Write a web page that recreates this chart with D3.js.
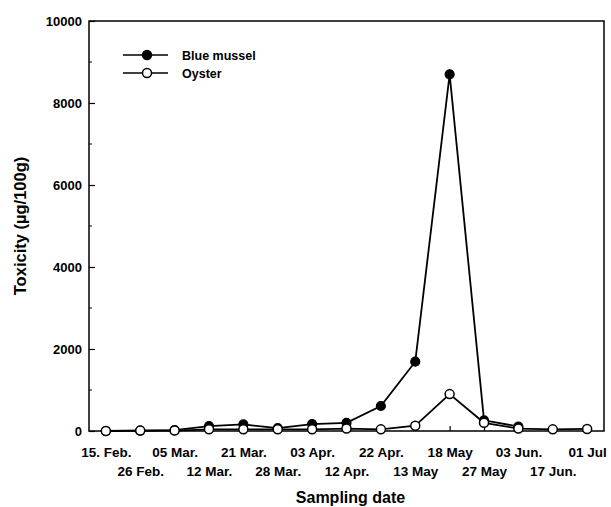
<!DOCTYPE html>
<html>
<head>
<meta charset="utf-8">
<script src="https://cdn.jsdelivr.net/npm/d3@7"></script>
<style>
  body { margin: 0; background: #fff; }
  text { font-family: "Liberation Sans", Arial, sans-serif; font-weight: bold; fill: #000; }
</style>
</head>
<body>
<svg width="611" height="507"></svg>
<script>
// sampling dates (x categories)
var dates = ['15. Feb.', '26 Feb.', '05 Mar.', '12 Mar.', '21 Mar.', '28 Mar.', '03 Apr.',
  '12 Apr.', '22 Apr.', '13 May', '18 May', '27 May', '03 Jun.', '17 Jun.', '01 Jul'];

// toxicity values, ug/100g
var mussel = [0, 10, 20, 120, 160, 70, 170, 200, 610, 1690, 8700, 260, 110];
var oyster = [0, 10, 10, 40, 40, 40, 40, 60, 40, 130, 900, 200, 60, 40, 50];

var yTicks = [0, 2000, 4000, 6000, 8000, 10000];
var yMinor = [1000, 3000, 5000, 7000, 9000];

// plot box (note: "top" is reserved on window, so use other names)
var plotL = 89, plotR = 604, plotT = 21, plotB = 431;

var svg = d3.select('svg');

var x = d3.scalePoint()
  .domain(dates)
  .range([plotL, plotR])
  .padding(0.49);

var y = d3.scaleLinear()
  .domain([0, 10000])
  .range([plotB, plotT]);

// frame
svg.append('rect')
  .attr('x', plotL).attr('y', plotT)
  .attr('width', plotR - plotL).attr('height', plotB - plotT)
  .attr('fill', 'none').attr('stroke', '#000').attr('stroke-width', 1.5);

// y axis, ticks pointing inward
var yAxis = svg.append('g')
  .attr('transform', 'translate(' + plotL + ',0)')
  .call(d3.axisLeft(y).tickValues(yTicks).tickFormat(d3.format('d')).tickSizeInner(-6).tickSizeOuter(0).tickPadding(7));
yAxis.select('.domain').remove();
yAxis.selectAll('line').attr('stroke-width', 1.2);
yAxis.selectAll('text').attr('font-size', 13).attr('font-family', '"Liberation Sans", Arial, sans-serif')
  .attr('font-weight', 'bold');

svg.append('g').selectAll('line')
  .data(yMinor)
  .enter()
    .append('line')
      .attr('x1', plotL).attr('x2', plotL + 3)
      .attr('y1', d => y(d)).attr('y2', d => y(d))
      .attr('stroke', '#000').attr('stroke-width', 1);

// x axis, ticks inward, labels in two rows
var xAxis = svg.append('g')
  .attr('transform', 'translate(0,' + plotB + ')')
  .call(d3.axisBottom(x).tickSizeInner(-5).tickSizeOuter(0).tickPadding(16));
xAxis.select('.domain').remove();
xAxis.selectAll('line').attr('stroke-width', 1.2);
xAxis.selectAll('text')
  .attr('font-size', 13.5)
  .attr('font-family', '"Liberation Sans", Arial, sans-serif')
  .attr('font-weight', 'bold')
  .attr('dy', (d, i) => i % 2 ? '2.18em' : '0.71em');

// lines
var line = d3.line()
  .x((d, i) => x(dates[i]))
  .y(d => y(d));

svg.append('path').datum(mussel)
  .attr('d', line).attr('fill', 'none').attr('stroke', '#000').attr('stroke-width', 1.8);
svg.append('path').datum(oyster)
  .attr('d', line).attr('fill', 'none').attr('stroke', '#000').attr('stroke-width', 1.8);

// markers (oyster drawn last, on top)
svg.append('g').selectAll('circle')
  .data(mussel)
  .enter()
    .append('circle')
      .attr('cx', (d, i) => x(dates[i]))
      .attr('cy', d => y(d))
      .attr('r', 4.5)
      .attr('fill', '#000').attr('stroke', '#000').attr('stroke-width', 1.2);

svg.append('g').selectAll('circle')
  .data(oyster)
  .enter()
    .append('circle')
      .attr('cx', (d, i) => x(dates[i]))
      .attr('cy', d => y(d))
      .attr('r', 4.5)
      .attr('fill', '#fff').attr('stroke', '#000').attr('stroke-width', 1.5);

// legend
var legend = [{name: 'Blue mussel', fill: '#000', y: 55}, {name: 'Oyster', fill: '#fff', y: 73}];
var lg = svg.append('g').selectAll('g')
  .data(legend)
  .enter()
    .append('g');
lg.append('line')
  .attr('x1', 123).attr('x2', 168)
  .attr('y1', d => d.y).attr('y2', d => d.y)
  .attr('stroke', '#000').attr('stroke-width', 1.5);
lg.append('circle')
  .attr('cx', 147).attr('cy', d => d.y).attr('r', 4.5)
  .attr('fill', d => d.fill).attr('stroke', '#000').attr('stroke-width', 1.5);
lg.append('text')
  .attr('x', 182).attr('y', d => d.y + 4.5)
  .attr('font-size', 12.5)
  .text(d => d.name);

// axis titles
svg.append('text')
  .attr('x', (plotL + plotR) / 2 + 4).attr('y', 503)
  .attr('text-anchor', 'middle')
  .attr('font-size', 16)
  .text('Sampling date');

svg.append('text')
  .attr('transform', 'translate(26,' + ((plotT + plotB) / 2) + ') rotate(-90)')
  .attr('text-anchor', 'middle')
  .attr('font-size', 16.5)
  .text('Toxicity (µg/100g)');
</script>
</body>
</html>
